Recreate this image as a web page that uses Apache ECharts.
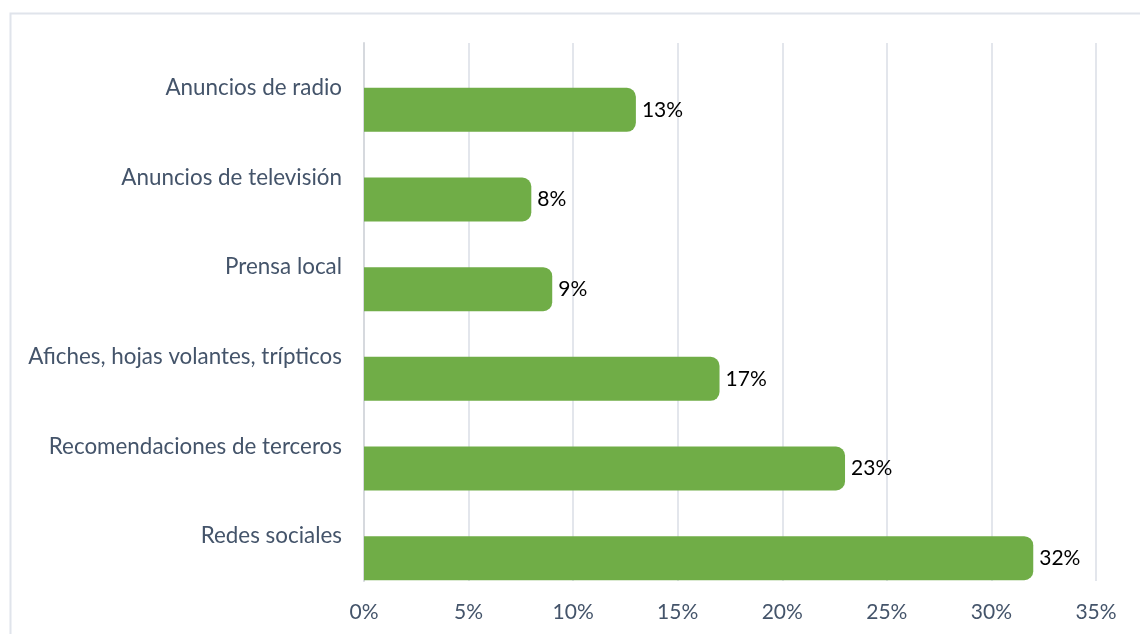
<!DOCTYPE html>
<html>
<head>
<meta charset="utf-8">
<script src="https://cdn.jsdelivr.net/npm/echarts@6/dist/echarts.min.js"></script>
<style>
  html, body { margin: 0; padding: 0; background: #ffffff; }
  #chart { width: 1140px; height: 634px; }
</style>
</head>
<body>
<div id="chart"></div>
<script>
// Channels, listed top to bottom
const categories = [
  'Anuncios de radio',
  'Anuncios de televisión',
  'Prensa local',
  'Afiches, hojas volantes, trípticos',
  'Recomendaciones de terceros',
  'Redes sociales'
];
// Share of respondents per channel (%)
const shares = [13, 8, 9, 17, 23, 32];
const xTicks = { min: 0, max: 35, interval: 5 };

const FONT = 'Lato, "Noto Sans", sans-serif';
const SLATE = '#44546a';

const chart = echarts.init(document.getElementById('chart'), null, { renderer: 'canvas' });

chart.setOption({
  animation: false,
  backgroundColor: '#ffffff',
  graphic: [{
    type: 'rect',
    shape: { x: 10.5, y: 13.5, width: 1200, height: 700 },
    style: { fill: 'none', stroke: '#e0e4eb', lineWidth: 2 },
    silent: true
  }],
  grid: { left: 364, right: 44, top: 43, bottom: 53, containLabel: false },
  xAxis: {
    type: 'value',
    min: xTicks.min,
    max: xTicks.max,
    interval: xTicks.interval,
    axisLine: { show: false },
    axisTick: { show: false },
    splitLine: { show: true, lineStyle: { color: '#e3e6ec', width: 2 } },
    axisLabel: {
      formatter: v => v + '%',
      color: SLATE,
      fontFamily: FONT,
      fontSize: 21,
      margin: 21
    }
  },
  yAxis: {
    type: 'category',
    data: categories,
    inverse: true,
    axisLine: { show: true, lineStyle: { color: '#d6d9de', width: 2 } },
    axisTick: { show: false },
    axisLabel: {
      color: SLATE,
      fontFamily: FONT,
      fontSize: 22.4,
      margin: 22
    }
  },
  series: [
    {
      // empty slot that pushes each bar into the lower half of its band
      type: 'bar',
      data: categories.map(() => '-'),
      barWidth: 44,
      barGap: '0%',
      silent: true
    },
    {
      type: 'bar',
      data: shares,
      barWidth: 44,
      barGap: '0%',
      itemStyle: { color: '#70ad47', borderRadius: [0, 9, 9, 0] },
      label: {
        show: true,
        position: 'right',
        distance: 6,
        formatter: p => p.value + '%',
        color: '#000000',
        fontFamily: FONT,
        fontSize: 21
      }
    }
  ]
});
</script>
</body>
</html>
